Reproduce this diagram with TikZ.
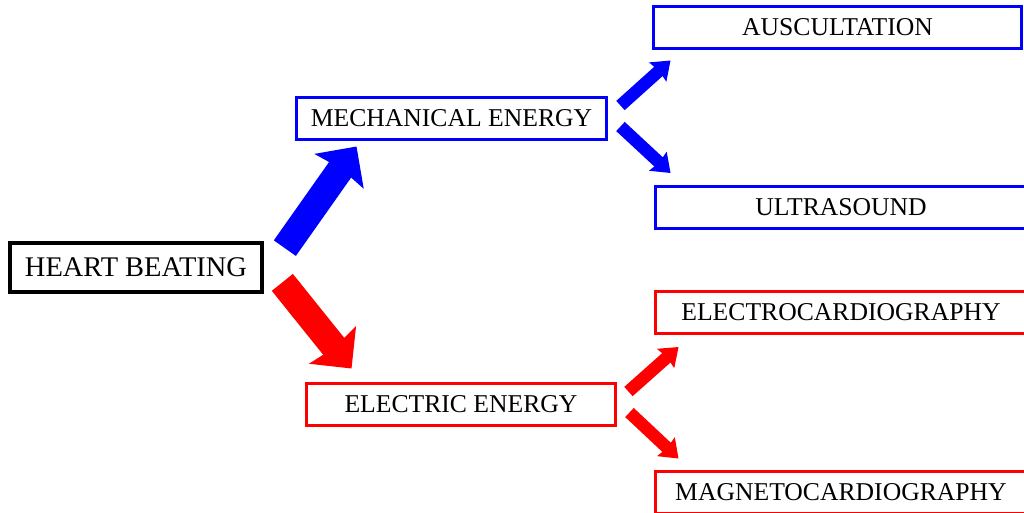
\documentclass[tikz,border=0pt]{standalone}
\usepackage{fontspec}
\setmainfont{Liberation Serif}
\usetikzlibrary{arrows.meta}

\begin{document}
\begin{tikzpicture}[
x=0.02cm, y=-0.02cm,
stagebox/.style={draw, line width=0.06cm, align=center, inner sep=0pt, minimum height=0.84cm, font=\fontsize{14.6}{16}\selectfont},
bigarrow/.style={line width=0.54cm, -{Stealth[length=0.6cm, width=1.18cm, inset=0.06cm]}},
smallarrow/.style={line width=0.25cm, -{Stealth[length=0.34cm, width=0.5cm, inset=0.03cm]}}
]
\useasboundingbox (0,0) rectangle (1024,512);
\node[stagebox, line width=0.075cm, minimum width=5.04cm, minimum height=0.98cm, font=\fontsize{16.2}{18}\selectfont] (heart) at (136,267.5) {HEART BEATING};
\node[stagebox, blue, text=black, minimum width=6.22cm] (mech) at (451.5,118) {MECHANICAL ENERGY};
\node[stagebox, red, text=black, minimum width=6.2cm] (elec) at (461,404) {ELECTRIC ENERGY};
\node[stagebox, blue, text=black, minimum width=7.38cm] (ausc) at (837.5,27) {AUSCULTATION};
\node[stagebox, blue, text=black, minimum width=7.44cm] (ultra) at (841,207.5) {ULTRASOUND};
\node[stagebox, red, text=black, minimum width=7.44cm] (ecg) at (841,312.5) {ELECTROCARDIOGRAPHY};
\node[stagebox, red, text=black, minimum width=7.44cm] (mcg) at (841,492) {MAGNETOCARDIOGRAPHY};
\draw[bigarrow, blue] ([shift={(21,7)}]heart.north east) -- ([shift={(62,6)}]mech.south west);
\draw[bigarrow, red] ([shift={(18.5,-11.5)}]heart.south east) -- ([shift={(47,-13)}]elec.north west);
\draw[smallarrow, blue] ([shift={(12,10)}]mech.north east) -- ([shift={(19,11)}]ausc.south west);
\draw[smallarrow, blue] ([shift={(12,-14)}]mech.south east) -- ([shift={(17,-12)}]ultra.north west);
\draw[smallarrow, red] ([shift={(11,10)}]elec.north east) -- ([shift={(25,12)}]ecg.south west);
\draw[smallarrow, red] ([shift={(12,-14)}]elec.south east) -- ([shift={(25,-11)}]mcg.north west);
\end{tikzpicture}
\end{document}
